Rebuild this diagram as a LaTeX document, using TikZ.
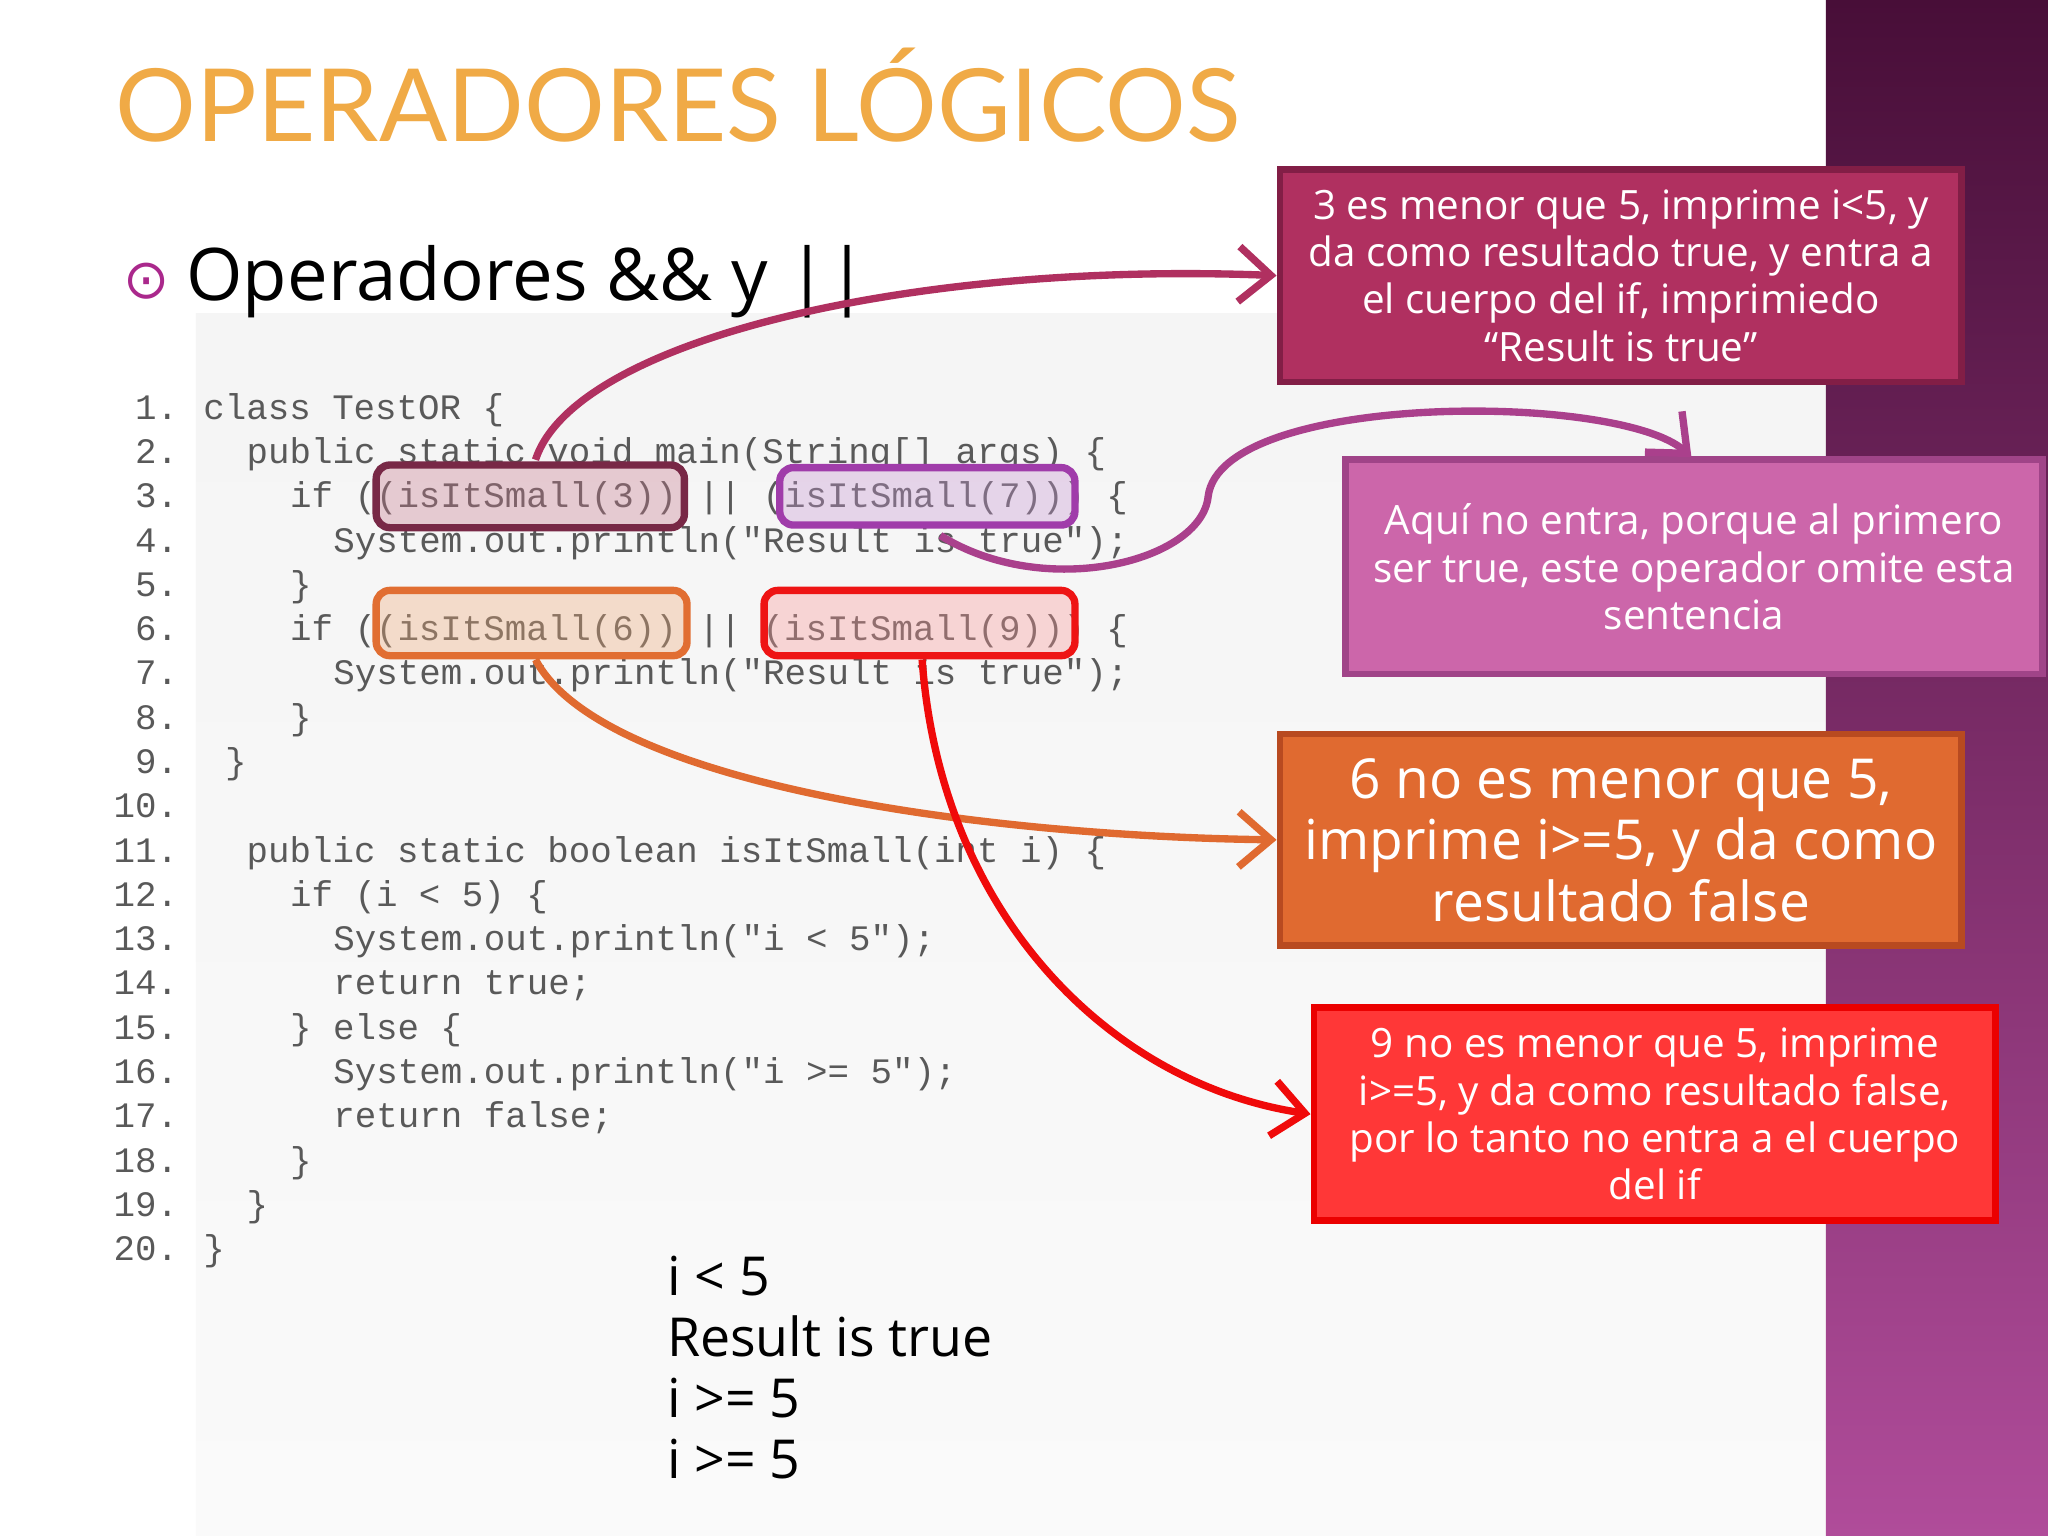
\documentclass[tikz,border=0pt]{standalone}
\usepackage{fontspec}
\setmainfont{Open Sans}
\newfontfamily\codefont{Liberation Mono}
\newfontfamily\titlefont{Lato}
\newfontfamily\symfont{DejaVu Sans}
\usetikzlibrary{arrows.meta}
\begin{document}
\begin{tikzpicture}[x=0.1mm,y=-0.1mm,
  codeline/.style={anchor=base west,inner sep=0,font=\codefont\fontsize{7.8}{9}\selectfont,text=black!65},
  numline/.style={anchor=base east,inner sep=0,font=\codefont\fontsize{7.8}{9}\selectfont,text=black!65},
  hl/.style={draw,line width=1.6pt,rounded corners=3pt,fill opacity=0.35,inner sep=0},
  callout/.style={draw,line width=1.5pt,text=white,align=center,inner sep=0},
  conn/.style={line width=1.6pt,-{Straight Barb[length=7pt,width=12pt]}}]
\useasboundingbox (0,0) rectangle (1568,1176);
\fill[white] (0,0) rectangle (1568,1176);
\shade[top color=black!4,bottom color=black!2] (150,240) rectangle (1398,1176);
\shade[top color={rgb,255:red,72;green,14;blue,56},bottom color={rgb,255:red,176;green,76;blue,154}] (1398,0) rectangle (1568,1176);
% title
\node[anchor=base west,inner sep=0,font=\titlefont\fontsize{22}{26}\selectfont,text={rgb,255:red,240;green,170;blue,70}] (title) at (88,108) {OPERADORES LÓGICOS};
% bullet
\node[anchor=center,inner sep=0,font=\symfont\fontsize{12}{14}\selectfont,text={rgb,255:red,170;green,40;blue,140}] (bul) at (112,215) {⊙};
\node[anchor=base west,inner sep=0,font=\fontsize{15.8}{19}\selectfont] (head) at (142,230) {Operadores \&\& y ||};
% code
\foreach \n/\ind/\t in {1/0/{class TestOR \{},2/2/{public static void main(String[] args) \{},3/4/{if ((isItSmall(3)) || (isItSmall(7))) \{},4/6/{System.out.println("Result is true");},5/4/{\}},6/4/{if ((isItSmall(6)) || (isItSmall(9))) \{},7/6/{System.out.println("Result is true");},8/4/{\}},9/1/{\}},10/0/{},11/2/{public static boolean isItSmall(int i) \{},12/4/{if (i < 5) \{},13/6/{System.out.println("i < 5");},14/6/{return true;},15/4/{\} else \{},16/6/{System.out.println("i >= 5");},17/6/{return false;},18/4/{\}},19/2/{\}},20/0/{\}}}{
  \node[numline] (n\n) at (137,{321+33.9*(\n-1)}) {\n.};
  \node[codeline] (c\n) at ({155+16.6*\ind},{321+33.9*(\n-1)}) {\t};
}
% highlight boxes
\node[hl,draw={rgb,255:red,120;green,40;blue,70},fill={rgb,255:red,200;green,120;blue,140},minimum width=23.6mm,minimum height=4.8mm] (b3) at (406,380) {};
\node[hl,draw={rgb,255:red,160;green,60;blue,170},fill={rgb,255:red,200;green,150;blue,210},minimum width=22.6mm,minimum height=4.4mm] (b7) at (710,380) {};
\node[hl,draw={rgb,255:red,225;green,110;blue,50},fill={rgb,255:red,240;green,170;blue,120},minimum width=23.8mm,minimum height=5mm] (b6) at (407,477) {};
\node[hl,draw={rgb,255:red,238;green,20;blue,20},fill={rgb,255:red,250;green,150;blue,150},minimum width=23.8mm,minimum height=5mm] (b9) at (704,477) {};
% callouts
\node[callout,fill={rgb,255:red,176;green,48;blue,96},draw={rgb,255:red,130;green,30;blue,70},minimum width=52.2mm,minimum height=16.3mm,font=\fontsize{8.8}{10.3}\selectfont] (k1) at (1241,211) {3 es menor que 5, imprime i<5, y\\da como resultado true, y entra a\\el cuerpo del if, imprimiedo\\“Result is true”};
\node[callout,fill={rgb,255:red,204;green,102;blue,170},draw={rgb,255:red,160;green,68;blue,136},minimum width=53.4mm,minimum height=16.4mm,font=\fontsize{8.8}{10.3}\selectfont] (k2) at (1297,434) {Aquí no entra, porque al primero\\ser true, este operador omite esta\\sentencia};
\node[callout,fill={rgb,255:red,224;green,106;blue,48},draw={rgb,255:red,184;green,74;blue,32},minimum width=52.2mm,minimum height=16.2mm,font=\fontsize{12}{13.4}\selectfont] (k3) at (1241,643) {6 no es menor que 5,\\imprime i>=5, y da como\\resultado false};
\node[callout,fill={rgb,255:red,255;green,55;blue,55},draw={rgb,255:red,235;green,0;blue,0},minimum width=52.2mm,minimum height=16.3mm,font=\fontsize{8.8}{10.3}\selectfont] (k4) at (1267,853) {9 no es menor que 5, imprime\\i>=5, y da como resultado false,\\por lo tanto no entra a el cuerpo\\del if};
% connectors
\coordinate (p3) at (410,352);
\coordinate (p7) at (720,410);
\coordinate (p6) at (410,505);
\coordinate (p9) at (706,505);
\coordinate (e2) at (1295,350);
\draw[conn,draw={rgb,255:red,176;green,48;blue,96}] (p3) .. controls (440,260) and (700,200) .. (k1.west);
\draw[conn,draw={rgb,255:red,170;green,64;blue,140}] (p7) .. controls (800,460) and (920,430) .. (925,380) .. controls (935,300) and (1240,300) .. (e2);
\draw[conn,draw={rgb,255:red,224;green,106;blue,48}] (p6) .. controls (460,600) and (750,640) .. (k3.west);
\draw[conn,draw={rgb,255:red,240;green,10;blue,10}] (p9) .. controls (720,700) and (850,830) .. (k4.west);
% output
\foreach \i/\t in {0/{i < 5},1/{Result is true},2/{i >= 5},3/{i >= 5}}{
  \node[anchor=base west,inner sep=0,font=\fontsize{11.7}{15}\selectfont] (o\i) at (510,{992+46.7*\i}) {\t};
}
\end{tikzpicture}
\end{document}
